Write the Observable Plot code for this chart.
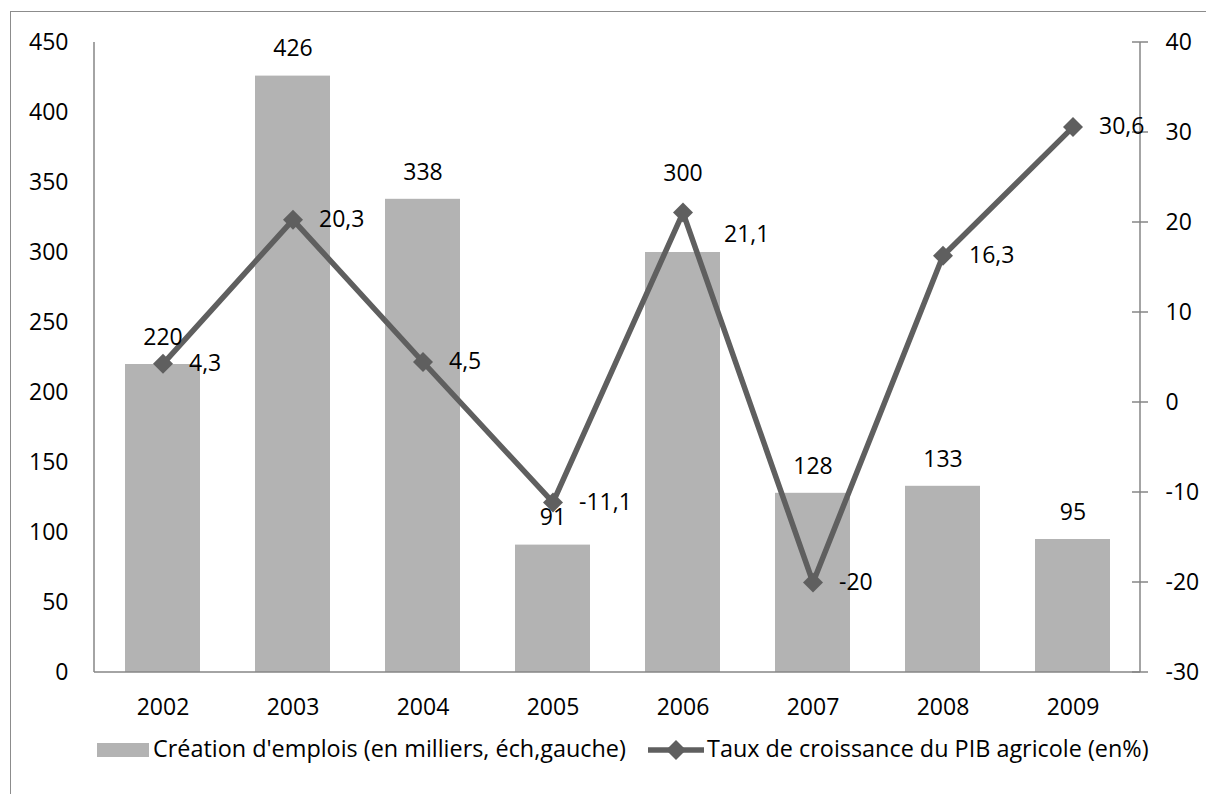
<!DOCTYPE html>
<html>
<head>
<meta charset="utf-8">
<script src="https://cdn.jsdelivr.net/npm/d3@7"></script>
<script src="https://cdn.jsdelivr.net/npm/@observablehq/plot@0.6"></script>
<style>
  html, body { margin: 0; padding: 0; background: #fff; overflow: hidden; }
  #wrap { position: relative; width: 1206px; height: 794px; overflow: hidden; font-family: "Open Sans", sans-serif; }
  #border { position: absolute; left: 10px; top: 11px; width: 1400px; height: 1000px; border: 1.5px solid #8c8c8c; pointer-events: none; }
  #chart { position: absolute; left: 0; top: 0; }
  .leg { position: absolute; font-size: 23.4px; color: #000; white-space: nowrap; line-height: 1; }
</style>
</head>
<body>
<div id="wrap">
  <div id="chart"></div>
  <div id="border"></div>
  <div id="legend"></div>
</div>
<script>
// ---- data ----
const years = ["2002", "2003", "2004", "2005", "2006", "2007", "2008", "2009"];
const emplois = [220, 426, 338, 91, 300, 128, 133, 95];
const pib = [4.3, 20.3, 4.5, -11.1, 21.1, -20, 16.3, 30.6];
const pibLabels = ["4,3", "20,3", "4,5", "-11,1", "21,1", "-20", "16,3", "30,6"];
const leftTicks = [0, 50, 100, 150, 200, 250, 300, 350, 400, 450];
const rightTicks = [-30, -20, -10, 0, 10, 20, 30, 40];
const seriesNames = ["Création d'emplois (en milliers, éch,gauche)", "Taux de croissance du PIB agricole (en%)"];

// ---- dual-axis mapping (right axis -30..40 onto left 0..450) ----
const L0 = 0, L1 = 450, R0 = -30, R1 = 40;
const toLeft = v => L0 + (v - R0) * (L1 - L0) / (R1 - R0);
const fromLeft = v => R0 + (v - L0) * (R1 - R0) / (L1 - L0);

const rows = years.map((y, i) => ({year: y, emplois: emplois[i], pib: pib[i], pibLabel: pibLabels[i]}));

const barColor = "#b3b3b3";
const lineColor = "#5f5f5f";
const axisColor = "#868686";

const axisLines = (index, scales, values, dims) => {
  const g = d3.create("svg:g");
  const x0 = dims.marginLeft, x1 = dims.width - dims.marginRight;
  const yTop = scales.y(L1), yBot = scales.y(L0);
  const add = (xa, ya, xb, yb) => g.append("line")
    .attr("x1", xa).attr("y1", ya).attr("x2", xb).attr("y2", yb)
    .attr("stroke", axisColor).attr("stroke-width", 1.5);
  add(x0, yTop, x0, yBot);
  add(x1, yTop, x1, yBot);
  add(x0, yBot, x1, yBot);
  for (const t of rightTicks) {
    const yy = scales.y(toLeft(t));
    add(x1 - 8, yy, x1 + 8, yy);
  }
  return g.node();
};

const plot = Plot.plot({
  width: 1206,
  height: 725,
  marginTop: 42,
  marginBottom: 53,
  marginLeft: 94,
  marginRight: 66,
  style: {fontFamily: "Open Sans", fontSize: "23px", color: "#000", background: "transparent"},
  x: {type: "band", domain: years, paddingInner: 0.426, paddingOuter: 0.213, label: null},
  y: {domain: [L0, L1], label: null},
  marks: [
    Plot.barY(rows, {x: "year", y: "emplois", fill: barColor}),
    axisLines,
    Plot.line(rows, {x: "year", y: d => toLeft(d.pib), stroke: lineColor, strokeWidth: 5.5}),
    Plot.dot(rows, {x: "year", y: d => toLeft(d.pib), symbol: "diamond2", r: 9, fill: lineColor, stroke: null}),
    Plot.text(rows.filter(d => d.year !== "2006"), {x: "year", y: "emplois", text: d => String(d.emplois), dy: -27, fill: "#000"}),
    Plot.text(rows.filter(d => d.year === "2006"), {x: "year", y: "emplois", text: d => String(d.emplois), dy: -79, fill: "#000"}),
    Plot.text(rows.filter(d => d.year !== "2006"), {x: "year", y: d => toLeft(d.pib), text: "pibLabel", textAnchor: "start", dx: 26, fill: "#000"}),
    Plot.text(rows.filter(d => d.year === "2006"), {x: "year", y: d => toLeft(d.pib), text: "pibLabel", textAnchor: "start", dx: 41, dy: 22, fill: "#000"}),
    Plot.axisY(leftTicks, {anchor: "left", tickSize: 0, tickPadding: 26, label: null}),
    Plot.axisY(rightTicks.map(toLeft), {anchor: "right", tickSize: 0, tickPadding: 25, tickFormat: d => String(Math.round(fromLeft(d))), label: null}),
    Plot.axisX({tickSize: 0, tickPadding: 26, label: null})
  ]
});
document.getElementById("chart").appendChild(plot);

// ---- legend (HTML, below the SVG) ----
const legend = document.getElementById("legend");
legend.innerHTML = `
  <div style="position:absolute;left:97px;top:743px;width:52px;height:14px;background:${barColor}"></div>
  <div class="leg" style="left:153px;top:737px">${seriesNames[0]}</div>
  <svg style="position:absolute;left:646px;top:738px" width="60" height="24">
    <line x1="2" y1="12" x2="58" y2="12" stroke="${lineColor}" stroke-width="5.5"/>
    <path d="M30,2 L40,12 L30,22 L20,12 Z" fill="${lineColor}"/>
  </svg>
  <div class="leg" style="left:707px;top:737px">${seriesNames[1]}</div>
`;
</script>
</body>
</html>
